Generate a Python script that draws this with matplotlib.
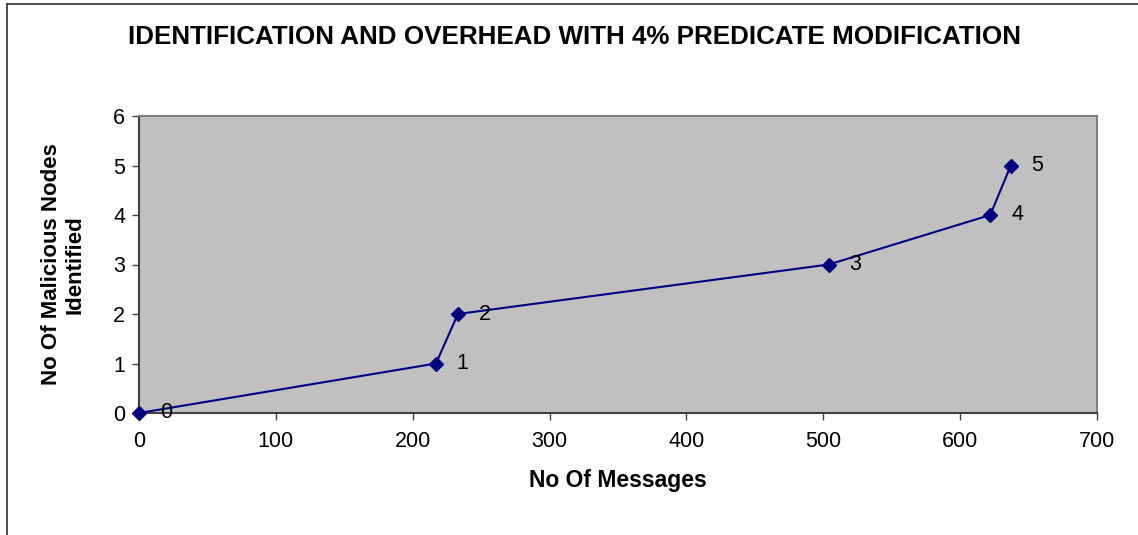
import matplotlib
matplotlib.use("Agg")
import matplotlib.pyplot as plt
from matplotlib.lines import Line2D

plt.rcParams['font.family'] = ['Liberation Sans', 'DejaVu Sans']

messages = [0, 217, 233, 504, 622, 637]
nodes = [0, 1, 2, 3, 4, 5]
x_ticks = [0, 100, 200, 300, 400, 500, 600, 700]
y_ticks = [0, 1, 2, 3, 4, 5, 6]

fig = plt.figure(figsize=(11.38, 5.35), dpi=100)
ax = fig.add_axes([139/1138, 1 - 413/535, (1097 - 139)/1138, (413 - 116)/535])
ax.set_facecolor('#c0c0c0')

ax.plot(messages, nodes, color='#000080', linewidth=1.5, marker='D',
        markersize=7.5, markerfacecolor='#000080', markeredgecolor='#000080',
        clip_on=False, zorder=3)

for xv, yv in zip(messages, nodes):
    ax.annotate(str(yv), (xv, yv), xytext=(15, 0), textcoords='offset points',
                ha='left', va='center', fontsize=15.5, color='black', zorder=4)

ax.set_xlim(0, 700)
ax.set_ylim(0, 6)
ax.set_xticks(x_ticks)
ax.set_yticks(y_ticks)
ax.tick_params(axis='both', direction='out', length=5, width=1,
               color='#404040', labelsize=15.5, pad=5)
ax.tick_params(axis='x', pad=8)

for side in ('left', 'bottom'):
    ax.spines[side].set_color('#404040')
    ax.spines[side].set_linewidth(1.5)
for side in ('top', 'right'):
    ax.spines[side].set_color('#808080')
    ax.spines[side].set_linewidth(1.5)

ax.set_xlabel('No Of Messages', fontsize=16.5, fontweight='bold', labelpad=12)
ax.set_ylabel('No Of Malicious Nodes\nIdentified', fontsize=16,
              fontweight='bold', labelpad=20, linespacing=1.15)

fig.text(574/1138, 1 - 37/535, 'IDENTIFICATION AND OVERHEAD WITH 4% PREDICATE MODIFICATION',
         ha='center', va='center', fontsize=18.7, fontweight='bold')

# chart frame
fig.add_artist(Line2D([7/1138, 7/1138], [0, 1 - 4/535], transform=fig.transFigure,
                      color='#303030', linewidth=1.2))
fig.add_artist(Line2D([7/1138, 1], [1 - 4/535, 1 - 4/535], transform=fig.transFigure,
                      color='#303030', linewidth=1.2))

fig.savefig('out.png', dpi=100)
